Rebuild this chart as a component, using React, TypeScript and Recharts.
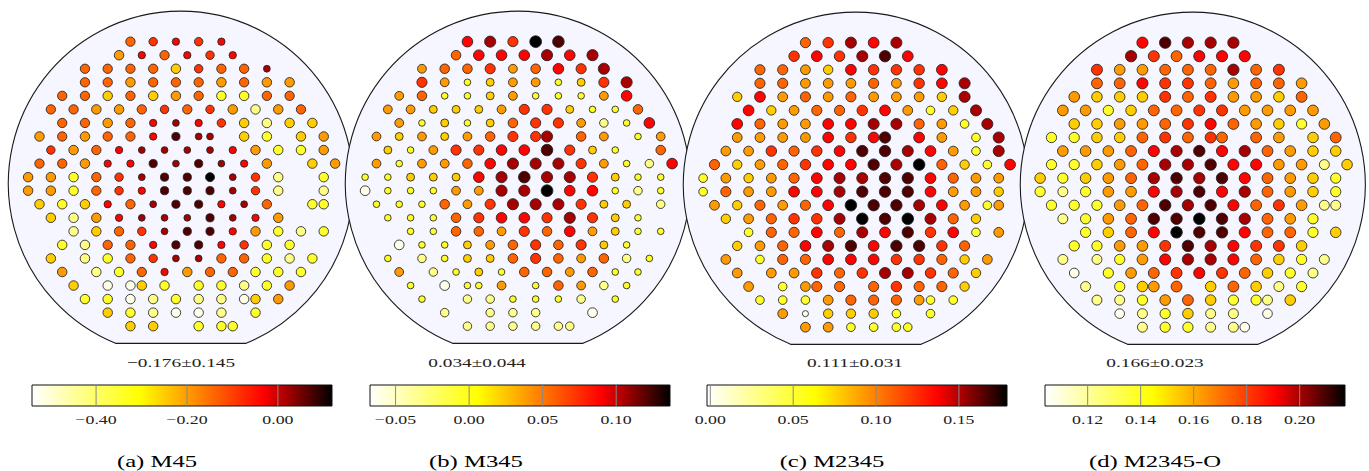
import React from "react";
import {
  ScatterChart,
  Scatter,
  XAxis,
  YAxis,
  ReferenceArea,
  ReferenceLine,
} from "recharts";

// die grid: one string per row, one char per half column ('.' = no die),
// char = colour level (0 lightest .. 9 darkest, X black)
const M45_ROWS = [
  "..... ..... .5.6. 7.6.7 ..... .....",
  "..... ..... 4.7.5 .7.6. 7.... .....",
  "..... ..5.5 .5.5. 3.6.5 .5.8. .....",
  "..... ..5.5 .4.5. 5.5.4 .5.4. 4....",
  "..... 5.5.3 .5.3. 4.5.2 .2.5. 5....",
  "....5 .5.4. 4.5.6 .5.6. 4.1.4 .5...",
  "..... 5.5.4 .5.7. 8.7.6 .3.1. 3.3..",
  "...4. 5.4.5 .5.7. 9.88. .3.2. .3.4.",
  "....6 .4.5. 7.8.8 .8.8. 7.4.2 .2.4.",
  "...5. 5.4.7 .7.9. 8.9.8 .7.4. ..3.4",
  "..4.4 .2.5. 6.8.9 .9.X. 8.6.1 ...2.",
  "..4.4 .2.5. 6.7.9 .9.9. 8.6.1 ...1.",
  "...3. 2.3.7 .5.8. 9.9.7 .8.5. ..22.",
  "....3 .1.4. 7.8.8 .8.9. 8.7.4 .....",
  "..... .1.3. 5.6.8 .9.9. 7.4.2 .1.2.",
  "..... 2.1.5 .5.7. 9.9.7 .6.2. 2....",
  "....3 ..1.2 .5.6. 8.8.5 .5.2. 1.2..",
  "..... 4..1. 2.5.7 .4.5. 5.2.2 .2...",
  "..... .3..0 .03.2 ..2.2 .1.2. 4....",
  "..... ..2.2 .0.1. 2.1.1 .03.4 .....",
  "..... ....3 .2.1. 0.0.1 ..2.. .....",
  "..... ..... .3.3. ..2.2 2.... .....",
];

const M345_ROWS = [
  "..... ..... .7.8. 6.X.9 ..... .....",
  "..... ..... 5.7.7 .7.8. 7.8.. .....",
  "..... ..4.5 .5.6. 4.5.7 .6.8. .....",
  "..... ..6.4 .2.3. 4.4.2 .3.6. 8....",
  "..... 4.5.2 .2.3. 4.2.2 .2.4. 7....",
  "....4 .4.3. 3.3.4 .6.6. 3.2.2 .5...",
  "..... 4.2.3 .2.3. 5.6.6 .4.1. 2.7..",
  "...4. 3.4.3 .4.5. 6.68. .5.4. .2.4.",
  "....3 .2.4. 6.6.7 .7.9. 6.3.2 ...5.",
  "...4. 2.4.4 .5.7. 8.8.8 .6.4. 2.1.7",
  "..2.2 .3.3. 3.7.8 .9.8. 8.6.3 .2.2.",
  "..0.2 .2.2. 4.4.8 .8.X. 7.7.2 .1.2.",
  "...2. 2.2.5 .4.6. 8.8.8 .6.3. 3..1.",
  "....2 .2.2. 5.6.7 .7.6. 8.6.3 .2...",
  "..... .2.2. 5.5.4 .6.5. 7.4.3 .2.2.",
  "..... 0.2.2 .3.4. 5.6.5 .6.3. 2....",
  "....2 ..1.2 .3.3. 5.6.5 .4.5. 1.2..",
  "..... 4..1. 2.3.2 .5.5. 4.5.2 .2...",
  "..... .2..0 .22.4 ..2.5 .4.1. 2....",
  "..... ..2.. .1.1. 2.2.2 .1..2 .....",
  "..... ....1 ...1. 1.1.. ..0.. .....",
  "..... ..... .1.1. 1.1.1 1.... .....",
];

const M2345_ROWS = [
  "..... ..... .5.6. 8.7.8 ..... .....",
  "..... ..... 6.7.6 .8.9. 7.... .....",
  "..... ..5.5 .4.3. 7.6.6 .6.7. .....",
  "..... ..5.5 .4.4. 4.5.4 .6.7. 8....",
  "..... 3.7.4 .5.4. 5.4.4 .4.3. 8....",
  "..... .7.3. 4.5.5 .6.7. 4.2.3 .8...",
  "..... 7.5.4 .4.7. 7.8.8 .5.4. 2.8..",
  "..... 4.4.4 .4.7. 6.79. .7.4. .2.8.",
  "....4 .4.6. 5.6.7 .9.9. 8.7.4 .2.8.",
  "...5. 3.4.5 .6.7. 7.9.8 .X.5. 3.2.7",
  "..2.4 .3.4. 5.7.8 .8.9. 9.7.5 .4.4.",
  "..2.5 .4.4. 7.7.8 .9.9. 9.7.4 .4.3.",
  "...4. 3.5.4 .5.7. X.9.9 .8.7. 4.24.",
  "....3 .4.5. 6.6.8 .X.9. X.8.5 .3...",
  "..... .2.5. 5.7.5 .8.7. 9.6.7 .2.4.",
  "..... 3.4.5 .7.8. 9.7.9 .9.6. 5....",
  "....4 ..2.5 .5.7. 7.7.6 .6.5. 3.4..",
  "..... 4..4. 4.6.5 .6.8. 8.6.5 .3...",
  "..... .4..2 .45.5 ..5.6 .5.5. 3....",
  "..... ..2.2 .2.4. 5.5.5 .42.2 .....",
  "..... ....4 .0.3. 3.3.2 ..2.. .....",
  "..... ..... .4.4. 2.2.2 2.... .....",
];

const M2345O_ROWS = [
  "..... ..... .7.9. 8.8.8 ..... .....",
  "..... ..... 8.6.5 .7.7. 7.... .....",
  "..... ..6.4 .4.5. 5.5.8 .5.6. .....",
  "..... ..5.5 .7.6. 6.5.4 .5.5. 4....",
  "..... 4.3.3 .3.6. 5.6.4 .4.3. 5....",
  "....4 .4.2. 3.5.5 .6.6. 4.4.4 .4...",
  "..... 3.3.4 .4.5. 6.7.5 .4.3. 2.4..",
  "...2. 2.3.3 .5.6. 5.65. .5.4. .3.5.",
  "....4 .4.4. 5.7.8 .9.7. 8.5.4 .3.3.",
  "...2. 2.3.4 .5.8. 8.9.7 .7.4. 4.1.3",
  "..3.2 .3.4. 5.8.9 .8.9. 7.5.4 .3.2.",
  "..2.1 .2.4. 4.7.8 .9.7. 8.5.4 .3.2.",
  "...2. 2.2.4 .5.9. 8.9.7 .5.6. 4.11.",
  "....1 .2.4. 5.9.9 .X.9. 8.5.4 .2...",
  "..... .2.3. 5.7.X .9.9. 7.5.5 .2.3.",
  "..... 2.2.4 .4.6. 9.8.7 .6.6. 3....",
  "....1 ..1.2 .4.7. 8.8.7 .5.3. 2.1..",
  "..... 0..2. 4.5.6 .7.6. 5.3.2 .1...",
  "..... .1..2 .34.5 ..3.5 .3.1. 2....",
  "..... ..1.1 .2.4. 5.3.2 .21.3 .....",
  "..... ....0 .1.2. 3.1.1 ..0.. .....",
  "..... ..... .1.2. 2.1.1 0.... .....",
];

// where each level sits along its colour bar
const LEVEL_POS: Record<string, number> = {
  "0": 0.03, "1": 0.17, "2": 0.3, "3": 0.44, "4": 0.52, "5": 0.61,
  "6": 0.69, "7": 0.765, "8": 0.85, "9": 0.93, X: 1,
};

const CAPTIONS = ["(a) M45", "(b) M345", "(c) M2345", "(d) M2345-O"];
const MEANS = ["\u22120.176\u00b10.145", "0.034\u00b10.044", "0.111\u00b10.031", "0.166\u00b10.023"];
const RANGES: [number, number][] = [
  [-0.541, 0.119],
  [-0.0674, 0.1366],
  [-0.002, 0.179],
  [0.1039, 0.2171],
];
const TICKS = [
  [-0.4, -0.2, 0],
  [-0.05, 0, 0.05, 0.1],
  [0, 0.05, 0.1, 0.15],
  [0.12, 0.14, 0.16, 0.18, 0.2],
];
const ROWS = [M45_ROWS, M345_ROWS, M2345_ROWS, M2345O_ROWS];

// layout (px)
const STEP_X = 11.37;
const STEP_Y = 13.55;
const PANEL_DX = 337.43;
const GRID_X0 = 5.33;
const ROW_Y0 = [41.7, 41.7, 42.7, 42.7];
const WAFER_CENTER = [{ k: 15.43, r: 10.48 }];
const WAFER_R = 172.5;
const FLAT_DY = 159.7;
const DOT_SIZE = [
  { rMax: 4.75, vSat: 0.15 },
  { rMax: 5.9, vSat: 0.13 },
  { rMax: 5.8, vSat: 0.18 },
  { rMax: 5.8, vSat: 0.22 },
];
const CB_LEFT0 = 32.3;
const CB_TOP = 385;
const CB_W = 300;
const CB_H = 21;
const CB_PAD = 24;
const MEAN_X = [181, 477, 855, 1155];
const CAPTION_X = [157, 476, 832, 1155];
const STRETCH = 1.45;
const SERIF = "'Liberation Serif', 'Times New Roman', serif";

const HEAT_STOPS: [number, string][] = [
  [0, "#ffffff"],
  [0.36, "#ffff00"],
  [0.77, "#ff0000"],
  [1, "#000000"],
];

function heat(f: number) {
  const t = Math.max(0, Math.min(1, f));
  let r = 255, g = 255, b = 255;
  if (t < 0.36) {
    b = 255 * (1 - t / 0.36);
  } else if (t < 0.77) {
    b = 0;
    g = 255 * (1 - (t - 0.36) / 0.41);
  } else {
    b = 0;
    g = 0;
    r = 255 * (1 - (t - 0.77) / 0.23);
  }
  return `rgb(${Math.round(r)},${Math.round(g)},${Math.round(b)})`;
}

function toPoints(rows: string[], lo: number, hi: number) {
  const pts: { k: number; r: number; v: number }[] = [];
  rows.forEach((row, r) => {
    row.replace(/ /g, "").split("").forEach((c, k) => {
      if (c === ".") return;
      pts.push({ k, r, v: lo + LEVEL_POS[c] * (hi - lo) });
    });
  });
  return pts;
}

const WaferOutline = (props: any) => {
  const { cx, cy } = props;
  const hx = Math.sqrt(WAFER_R * WAFER_R - FLAT_DY * FLAT_DY);
  const d = `M ${cx - hx} ${cy + FLAT_DY} A ${WAFER_R} ${WAFER_R} 0 1 1 ${cx + hx} ${cy + FLAT_DY} Z`;
  return <path d={d} fill="#f5f6ff" stroke="#1a1a1a" strokeWidth={1.1} />;
};

function Wafer({ i }: { i: number }) {
  const [lo, hi] = RANGES[i];
  const pts = toPoints(ROWS[i], lo, hi);
  const { rMax, vSat } = DOT_SIZE[i];
  const die = (p: any) => {
    const v = p.payload.v;
    const rad = 2.6 + (rMax - 2.6) * Math.sqrt(Math.min(1, Math.abs(v) / vSat));
    return (
      <circle
        cx={p.cx}
        cy={p.cy}
        r={rad}
        fill={heat((v - lo) / (hi - lo))}
        stroke="#222"
        strokeWidth={0.85}
      />
    );
  };
  return (
    <div
      style={{
        position: "absolute",
        left: GRID_X0 + PANEL_DX * i - STEP_X,
        top: ROW_Y0[i] - 3 * STEP_Y,
      }}
    >
      <ScatterChart
        width={32 * STEP_X}
        height={27 * STEP_Y}
        margin={{ top: 0, right: 0, bottom: 0, left: 0 }}
      >
        <XAxis type="number" dataKey="k" domain={[-1, 31]} hide />
        <YAxis type="number" dataKey="r" domain={[-3, 24]} reversed hide />
        <Scatter data={WAFER_CENTER} shape={WaferOutline} isAnimationActive={false} />
        <Scatter data={pts} shape={die} isAnimationActive={false} />
      </ScatterChart>
    </div>
  );
}

const fmtTick = (v: number) => v.toFixed(2).replace("-", "\u2212");

const CbTick = (props: any) => {
  const { x, y, payload } = props;
  return (
    <text
      x={x}
      y={y + 9.8}
      textAnchor="middle"
      fontFamily={SERIF}
      fontSize={12.3}
      fill="#222"
      transform={`matrix(${STRETCH} 0 0 1 ${(1 - STRETCH) * x} 0)`}
    >
      {fmtTick(payload.value)}
    </text>
  );
};

const NoMark = () => <g />;

function ColorBar({ i }: { i: number }) {
  const [lo, hi] = RANGES[i];
  const id = `heat${i}`;
  const tickPts = TICKS[i].map((t) => ({ v: t, y: 0.5 }));
  return (
    <div
      style={{
        position: "absolute",
        left: CB_LEFT0 + PANEL_DX * i - CB_PAD,
        top: CB_TOP - 1,
      }}
    >
      <ScatterChart
        width={CB_W + 2 * CB_PAD}
        height={CB_H + 30}
        margin={{ top: 1, right: CB_PAD, bottom: 0, left: CB_PAD }}
      >
        <defs>
          <linearGradient id={id} x1="0" y1="0" x2="1" y2="0">
            {HEAT_STOPS.map(([o, c]) => (
              <stop key={o} offset={o} stopColor={c} />
            ))}
          </linearGradient>
        </defs>
        <XAxis
          type="number"
          dataKey="v"
          domain={[lo, hi]}
          ticks={TICKS[i]}
          interval={0}
          axisLine={false}
          tickLine={false}
          height={29}
          tick={<CbTick />}
        />
        <YAxis type="number" dataKey="y" domain={[0, 1]} hide />
        <ReferenceArea
          x1={lo}
          x2={hi}
          y1={0}
          y2={1}
          fill={`url(#${id})`}
          fillOpacity={1}
          stroke="#111"
          strokeWidth={1}
        />
        {TICKS[i].map((t) => (
          <ReferenceLine key={t} x={t} stroke="#888" strokeWidth={1} />
        ))}
        <Scatter data={tickPts} shape={NoMark} isAnimationActive={false} />
      </ScatterChart>
    </div>
  );
}

function Label({ text, x, y, size, color }: { text: string; x: number; y: number; size: number; color: string }) {
  return (
    <div
      style={{
        position: "absolute",
        left: x,
        top: y - size / 2,
        fontFamily: SERIF,
        fontSize: size,
        lineHeight: `${size}px`,
        color,
        whiteSpace: "nowrap",
        transform: `translateX(-50%) scaleX(${STRETCH})`,
      }}
    >
      {text}
    </div>
  );
}

export default function App() {
  return (
    <div
      style={{
        position: "absolute",
        left: 0,
        top: 0,
        width: 1369,
        height: 471,
        background: "#fff",
        overflow: "hidden",
      }}
    >
      {[0, 1, 2, 3].map((i) => (
        <Wafer key={`w${i}`} i={i} />
      ))}
      {[0, 1, 2, 3].map((i) => (
        <ColorBar key={`c${i}`} i={i} />
      ))}
      {MEANS.map((m, i) => (
        <Label key={`m${i}`} text={m} x={MEAN_X[i]} y={362.5} size={13.3} color="#222" />
      ))}
      {CAPTIONS.map((c, i) => (
        <Label key={`t${i}`} text={c} x={CAPTION_X[i]} y={461.5} size={17} color="#000" />
      ))}
    </div>
  );
}
